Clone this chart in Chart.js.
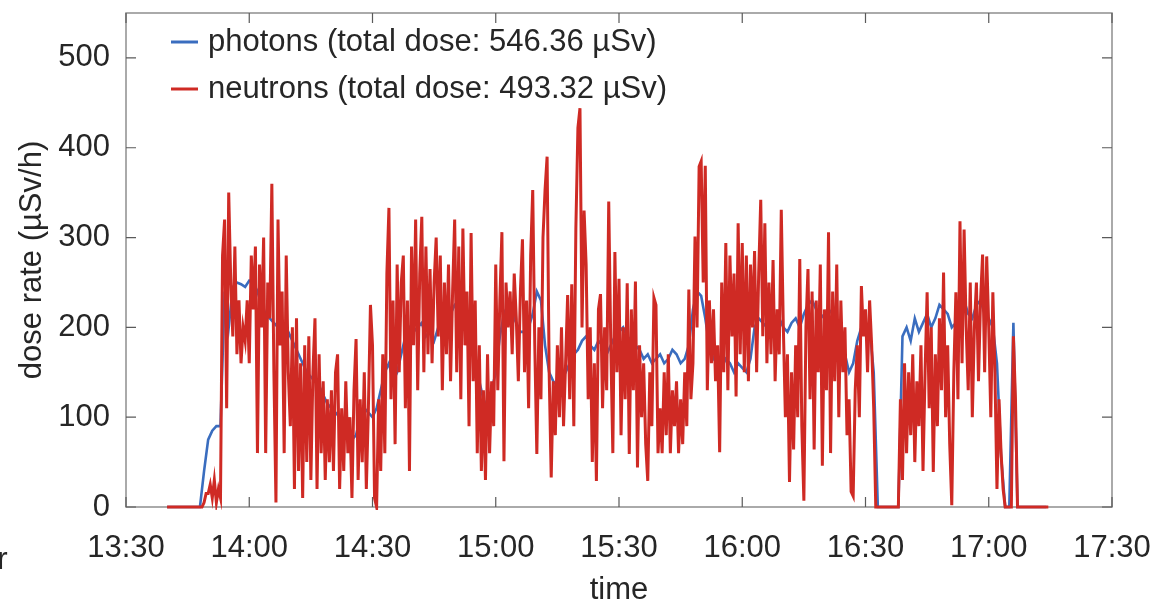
<!DOCTYPE html>
<html>
<head>
<meta charset="utf-8">
<script src="https://cdn.jsdelivr.net/npm/chart.js@4.4.1/dist/chart.umd.min.js"></script>
<style>
  html, body { margin: 0; padding: 0; background: #fff; }
  #wrap { position: relative; width: 1155px; height: 601px; overflow: hidden; }
  #stray { position: absolute; left: -3px; top: 540px; font: 32px "Liberation Sans", Arial, sans-serif; color: #262626; }
</style>
</head>
<body>
<div id="wrap">
  <canvas id="dose-chart"></canvas>
  <span id="stray">r</span>
</div>
<script>
// x axis is minutes after 13:30
const timeTickLabels = ["13:30", "14:00", "14:30", "15:00", "15:30", "16:00", "16:30", "17:00", "17:30"];
const doseTicks = [0, 100, 200, 300, 400, 500];

const photonLabel = "photons (total dose: 546.36 µSv)";
const neutronLabel = "neutrons (total dose: 493.32 µSv)";

// photons: one reading per minute from 13:40
const photonStart = 10;
const photonStep = 1;
const photonDose = [
  0, 0, 0, 0, 0, 0, 0, 0, 0, 40,
  75, 85, 90, 90, 240, 200, 245, 250, 248, 245,
  252, 250, 240, 225, 215, 210, 205, 200, 205, 200,
  190, 180, 170, 160, 150, 145, 140, 135, 125, 115,
  110, 105, 100, 95, 85, 75, 80, 100, 110, 105,
  100, 110, 130, 150, 160, 140, 150, 170, 190, 200,
  195, 200, 205, 190, 195, 185, 200, 210, 220, 215,
  225, 230, 210, 200, 180, 160, 140, 120, 110, 130,
  150, 190, 215, 225, 215, 205, 195, 195, 200, 215,
  240, 230, 180, 150, 140, 135, 140, 150, 160, 170,
  175, 185, 190, 180, 175, 185, 180, 170, 180, 190,
  195, 200, 190, 185, 180, 175, 165, 170, 160, 165,
  170, 160, 165, 175, 170, 160, 165, 180, 220, 240,
  235, 210, 180, 165, 160, 155, 165, 160, 150, 160,
  155, 150, 165, 200, 210, 205, 200, 195, 205, 210,
  200, 195, 205, 210, 200, 215, 225, 230, 220, 215,
  210, 220, 215, 205, 200, 170, 150, 160, 185, 200,
  205, 200, 150, 0, 0, 0, 0, 0, 0, 190,
  200, 185, 210, 195, 205, 215, 200, 210, 225, 220,
  215, 200, 205, 220, 230, 215, 210, 225, 230, 215,
  210, 200, 160, 57, 0, 0, 205, 0, 0, 0,
  0, 0, 0, 0, 0,
];

// neutrons: one reading per half minute from 13:40
const neutronStart = 10;
const neutronStep = 0.5;
const neutronDose = [
  0, 0, 0, 0, 0, 0, 0, 0, 0, 0, 0, 0, 0, 0, 0, 0, 0, 0, 5, 15,
  15, 25, 10, 30, 5, 20, 10, 280, 320, 110, 350, 250, 190, 290, 170, 230, 160, 200, 185, 230,
  160, 280, 220, 290, 60, 270, 200, 300, 60, 250, 210, 360, 150, 5, 320, 180, 240, 60, 280, 150,
  90, 200, 20, 210, 40, 160, 10, 180, 50, 190, 30, 150, 210, 20, 170, 60, 140, 30, 120, 50,
  130, 40, 150, 170, 20, 110, 40, 140, 60, 100, 10, 130, 187, 30, 120, 50, 150, 20, 110, 225,
  180, 10, 0, 120, 40, 170, 60, 260, 333, 120, 230, 70, 270, 150, 250, 280, 110, 230, 40, 290,
  180, 320, 130, 260, 323, 150, 290, 170, 265, 160, 250, 300, 190, 280, 130, 250, 170, 270, 140, 240,
  320, 150, 290, 120, 310, 180, 240, 90, 305, 140, 230, 60, 180, 40, 130, 30, 170, 60, 140, 90,
  270, 130, 230, 306, 51, 250, 200, 240, 170, 260, 210, 140, 240, 298, 150, 230, 110, 280, 353, 180,
  59, 200, 120, 300, 353, 390, 150, 33, 140, 80, 180, 100, 200, 90, 160, 236, 120, 248, 90, 310,
  422, 444, 200, 330, 270, 120, 200, 50, 160, 29, 220, 237, 110, 200, 130, 340, 180, 60, 284, 150,
  254, 80, 200, 120, 249, 59, 220, 130, 251, 44, 180, 100, 160, 70, 29, 150, 90, 233, 225, 60,
  110, 60, 150, 80, 170, 60, 130, 90, 140, 60, 120, 70, 150, 90, 242, 120, 160, 301, 200, 379,
  385, 250, 380, 130, 230, 160, 220, 140, 180, 61, 250, 150, 294, 130, 280, 190, 260, 123, 316, 170,
  294, 150, 280, 140, 270, 200, 285, 150, 260, 342, 190, 316, 160, 250, 170, 275, 140, 220, 170, 331,
  200, 100, 170, 28, 150, 64, 180, 100, 276, 90, 7, 200, 265, 120, 240, 64, 230, 150, 270, 46,
  220, 130, 306, 60, 240, 140, 270, 100, 230, 150, 200, 80, 120, 17, 12, 130, 180, 100, 246, 190,
  220, 150, 230, 180, 110, 0, 0, 0, 0, 0, 0, 0, 0, 0, 0, 0, 0, 120, 30, 160,
  60, 150, 80, 170, 50, 140, 90, 180, 40, 150, 239, 110, 200, 39, 170, 90, 210, 130, 261, 100,
  180, 70, 2, 150, 239, 120, 318, 160, 309, 200, 130, 250, 100, 200, 250, 140, 230, 281, 150, 279,
  200, 100, 239, 150, 20, 120, 60, 20, 0, 0, 0, 0, 190, 120, 0, 0, 0, 0, 0, 0,
  0, 0, 0, 0, 0, 0, 0, 0, 0, 0,
];

const FONT = '"Liberation Sans", Arial, Helvetica, sans-serif';
const TEXT_COLOR = "#262626";
const PHOTON_COLOR = "#3a6dbf";
const NEUTRON_COLOR = "#cf2a24";

function toPoints(values, start, step) {
  return values.map((v, i) => ({ x: start + i * step, y: v }));
}

// MATLAB-like box with inward ticks, plus the legend inside the axes
const axesBoxPlugin = {
  id: "axesBox",
  beforeDatasetsDraw(chart) {
    const { ctx, chartArea: a, scales } = chart;
    ctx.save();
    ctx.strokeStyle = "#8e8e8e";
    ctx.lineWidth = 1.5;
    ctx.strokeRect(a.left, a.top, a.right - a.left, a.bottom - a.top);

    ctx.strokeStyle = "#5a5a5a";
    ctx.lineWidth = 1.2;
    ctx.beginPath();
    scales.x.ticks.forEach((t) => {
      const px = scales.x.getPixelForValue(t.value);
      ctx.moveTo(px, a.bottom);
      ctx.lineTo(px, a.bottom - 10);
      ctx.moveTo(px, a.top);
      ctx.lineTo(px, a.top + 10);
    });
    scales.y.ticks.forEach((t) => {
      const py = scales.y.getPixelForValue(t.value);
      ctx.moveTo(a.left, py);
      ctx.lineTo(a.left + 10, py);
      ctx.moveTo(a.right, py);
      ctx.lineTo(a.right - 10, py);
    });
    ctx.stroke();
    ctx.restore();
  },
  afterDatasetsDraw(chart) {
    const { ctx, chartArea: a } = chart;
    const rows = [
      { label: photonLabel, color: PHOTON_COLOR, y: a.top + 29 },
      { label: neutronLabel, color: NEUTRON_COLOR, y: a.top + 76 },
    ];
    ctx.save();
    ctx.font = `31px ${FONT}`;
    ctx.textBaseline = "middle";
    ctx.fillStyle = TEXT_COLOR;
    rows.forEach((row) => {
      ctx.strokeStyle = row.color;
      ctx.lineWidth = 3;
      ctx.beginPath();
      ctx.moveTo(a.left + 45, row.y);
      ctx.lineTo(a.left + 72, row.y);
      ctx.stroke();
      ctx.fillText(row.label, a.left + 82, row.y);
    });
    ctx.restore();
  },
};

new Chart(document.getElementById("dose-chart"), {
  type: "line",
  data: {
    datasets: [
      {
        label: photonLabel,
        data: toPoints(photonDose, photonStart, photonStep),
        borderColor: PHOTON_COLOR,
        borderWidth: 2.6,
        pointRadius: 0,
        tension: 0,
        clip: 3,
        order: 1,
      },
      {
        label: neutronLabel,
        data: toPoints(neutronDose, neutronStart, neutronStep),
        borderColor: NEUTRON_COLOR,
        borderWidth: 3,
        pointRadius: 0,
        tension: 0,
        clip: 3,
        order: 0,
      },
    ],
  },
  options: {
    responsive: true,
    maintainAspectRatio: false,
    animation: false,
    events: [],
    layout: { padding: { top: 13, right: 43, bottom: 0, left: 0 } },
    plugins: {
      legend: { display: false },
      tooltip: { enabled: false },
    },
    scales: {
      x: {
        type: "linear",
        min: 0,
        max: 240,
        grid: { display: false, drawTicks: false },
        border: { display: false },
        ticks: {
          stepSize: 30,
          padding: 23,
          maxRotation: 0,
          color: TEXT_COLOR,
          font: { family: FONT, size: 31 },
          callback(value) {
            return timeTickLabels[Math.round(value / 30)];
          },
        },
        title: {
          display: true,
          text: "time",
          color: TEXT_COLOR,
          font: { family: FONT, size: 31, lineHeight: 1 },
          padding: { top: 0, bottom: -5 },
        },
        afterFit(scale) {
          scale.height = 94;
          scale.paddingLeft = 0;
          scale.paddingRight = 0;
        },
      },
      y: {
        type: "linear",
        min: 0,
        max: 550,
        grid: { display: false, drawTicks: false },
        border: { display: false },
        ticks: {
          stepSize: 100,
          padding: 16,
          color: TEXT_COLOR,
          font: { family: FONT, size: 31 },
        },
        afterBuildTicks(scale) {
          scale.ticks = doseTicks.map((v) => ({ value: v }));
        },
        title: {
          display: true,
          text: "dose rate (µSv/h)",
          color: TEXT_COLOR,
          font: { family: FONT, size: 31, lineHeight: 1 },
          padding: { top: 17, bottom: 0 },
        },
        afterFit(scale) {
          scale.width = 126;
          scale.paddingTop = 0;
          scale.paddingBottom = 0;
        },
      },
    },
  },
  plugins: [axesBoxPlugin],
});
</script>
</body>
</html>
